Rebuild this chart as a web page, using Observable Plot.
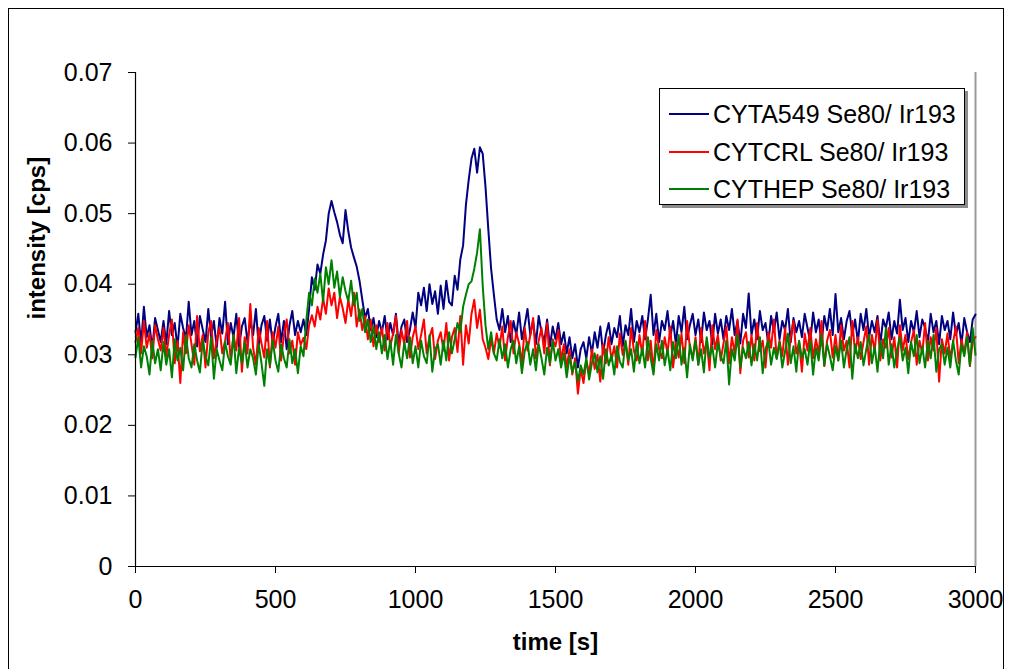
<!DOCTYPE html>
<html><head><meta charset="utf-8">
<script src="https://cdn.jsdelivr.net/npm/d3@7"></script>
<script src="https://cdn.jsdelivr.net/npm/@observablehq/plot@0.6"></script>
<style>
body{margin:0;background:#fff;font-family:"Liberation Sans",Arial,sans-serif;}
#wrap{position:relative;width:1010px;height:669px;overflow:hidden;background:#fff;}
#frame{position:absolute;left:8px;top:8px;width:996px;height:720px;border:1px solid #000;box-sizing:border-box;pointer-events:none;}
#chart{position:absolute;left:0;top:0;}
#legend{position:absolute;left:659px;top:88px;width:306px;height:117px;border:1px solid #000;box-shadow:3px 3px 0 #8c8c8c;background:#fff;box-sizing:border-box;}
.row{position:absolute;left:0;height:30px;width:300px;}
.sw{position:absolute;left:9px;top:14px;width:40px;height:2px;}
.lt{position:absolute;left:53px;top:0;font-size:25px;line-height:30px;color:#000;white-space:nowrap;}
</style>
</head><body>
<div id="wrap"><div id="chart"></div><div id="frame"></div><div id="legend"></div></div>
<script>
const seriesNames = ["CYTA549 Se80/ Ir193", "CYTCRL Se80/ Ir193", "CYTHEP Se80/ Ir193"];
const seriesColors = ["#000080", "#ff0000", "#008000"];
const xTicks = [0, 500, 1000, 1500, 2000, 2500, 3000];
const yTicks = [0, 0.01, 0.02, 0.03, 0.04, 0.05, 0.06, 0.07];
const time = d3.range(0, 3001, 10);

const a549 = [
.0332,.0358,.0315,.0368,.0325,.0342,.0308,.0352,.0335,.0318,
.0348,.0315,.0362,.0328,.0345,.0310,.0358,.0338,.0322,.0375,
.0328,.0348,.0312,.0355,.0336,.0318,.0365,.0325,.0348,.0310,
.0352,.0330,.0375,.0315,.0345,.0325,.0358,.0312,.0340,.0352,
.0318,.0348,.0328,.0365,.0312,.0342,.0355,.0320,.0350,.0315,
.0340,.0358,.0318,.0348,.0308,.0342,.0362,.0328,.0348,.0332,
.0350,.0328,.0365,.0410,.0392,.0428,.0415,.0442,.0462,.0500,
.0518,.0502,.0488,.0470,.0458,.0505,.0475,.0452,.0438,.0425,
.0405,.0378,.0352,.0365,.0335,.0352,.0325,.0348,.0332,.0355,
.0322,.0345,.0328,.0358,.0315,.0340,.0350,.0318,.0335,.0360,
.0338,.0388,.0370,.0395,.0362,.0400,.0372,.0390,.0358,.0398,
.0365,.0405,.0375,.0370,.0412,.0392,.0435,.0455,.0512,.0548,
.0578,.0592,.0558,.0594,.0585,.0538,.0478,.0422,.0385,.0350,
.0335,.0365,.0332,.0355,.0318,.0348,.0328,.0360,.0322,.0342,
.0365,.0328,.0348,.0315,.0355,.0332,.0318,.0350,.0312,.0340,
.0322,.0345,.0315,.0332,.0302,.0325,.0295,.0315,.0282,.0308,
.0318,.0295,.0325,.0302,.0332,.0310,.0340,.0302,.0328,.0345,
.0315,.0338,.0325,.0355,.0312,.0342,.0328,.0365,.0318,.0348,
.0332,.0355,.0322,.0350,.0385,.0328,.0358,.0318,.0348,.0335,
.0362,.0325,.0348,.0315,.0355,.0332,.0368,.0322,.0342,.0358,
.0328,.0350,.0318,.0360,.0335,.0348,.0315,.0358,.0330,.0350,
.0322,.0355,.0335,.0365,.0328,.0348,.0316,.0358,.0338,.0387,
.0328,.0350,.0322,.0362,.0335,.0345,.0315,.0355,.0332,.0360,
.0322,.0348,.0335,.0365,.0318,.0352,.0332,.0348,.0325,.0358,
.0338,.0318,.0360,.0332,.0350,.0315,.0355,.0335,.0365,.0328,
.0386,.0332,.0352,.0322,.0348,.0362,.0328,.0350,.0318,.0358,
.0335,.0365,.0325,.0348,.0332,.0355,.0315,.0350,.0338,.0360,
.0322,.0348,.0330,.0378,.0335,.0352,.0318,.0348,.0332,.0362,
.0325,.0350,.0338,.0318,.0358,.0332,.0348,.0315,.0355,.0335,
.0348,.0322,.0360,.0328,.0345,.0315,.0352,.0332,.0318,.0350,
.0357];

const crl = [
.0318,.0338,.0302,.0348,.0310,.0330,.0295,.0342,.0322,.0306,
.0338,.0298,.0328,.0350,.0288,.0320,.0260,.0332,.0302,.0342,
.0315,.0286,.0355,.0305,.0328,.0282,.0332,.0348,.0295,.0322,
.0338,.0302,.0320,.0345,.0292,.0328,.0306,.0352,.0276,.0325,
.0302,.0372,.0310,.0286,.0338,.0316,.0296,.0348,.0282,.0332,
.0310,.0340,.0292,.0328,.0350,.0302,.0320,.0286,.0332,.0314,
.0324,.0308,.0342,.0356,.0340,.0368,.0350,.0380,.0358,.0394,
.0370,.0388,.0352,.0382,.0366,.0345,.0378,.0355,.0388,.0340,
.0364,.0335,.0355,.0322,.0350,.0312,.0342,.0318,.0338,.0306,
.0345,.0312,.0330,.0355,.0302,.0335,.0315,.0348,.0296,.0325,
.0340,.0308,.0328,.0350,.0302,.0325,.0338,.0294,.0320,.0332,
.0306,.0345,.0292,.0325,.0338,.0304,.0355,.0286,.0342,.0316,
.0358,.0378,.0338,.0364,.0322,.0310,.0294,.0322,.0302,.0330,
.0310,.0340,.0292,.0325,.0348,.0302,.0332,.0316,.0288,.0338,
.0306,.0328,.0352,.0295,.0320,.0338,.0302,.0345,.0285,.0322,
.0312,.0335,.0292,.0315,.0282,.0308,.0272,.0295,.0245,.0280,
.0260,.0292,.0272,.0308,.0280,.0300,.0262,.0315,.0288,.0325,
.0292,.0312,.0282,.0330,.0300,.0318,.0286,.0338,.0306,.0292,
.0328,.0300,.0348,.0292,.0320,.0276,.0335,.0308,.0295,.0325,
.0302,.0340,.0282,.0318,.0296,.0330,.0288,.0348,.0310,.0295,
.0325,.0286,.0338,.0302,.0320,.0278,.0342,.0308,.0328,.0292,
.0316,.0340,.0288,.0325,.0302,.0350,.0274,.0320,.0332,.0296,
.0328,.0292,.0345,.0305,.0320,.0282,.0332,.0310,.0350,.0295,
.0320,.0298,.0338,.0286,.0325,.0348,.0302,.0318,.0276,.0330,
.0306,.0338,.0295,.0322,.0302,.0348,.0284,.0320,.0335,.0296,
.0328,.0292,.0342,.0306,.0320,.0282,.0348,.0302,.0325,.0294,
.0318,.0340,.0286,.0328,.0305,.0350,.0292,.0322,.0310,.0338,
.0296,.0325,.0282,.0342,.0306,.0328,.0294,.0318,.0335,.0286,
.0320,.0302,.0345,.0292,.0325,.0306,.0338,.0262,.0322,.0302,
.0330,.0294,.0318,.0340,.0288,.0322,.0302,.0332,.0284,.0320,
.0325];

const hep = [
.0296,.0325,.0282,.0312,.0298,.0272,.0320,.0288,.0308,.0278,
.0318,.0286,.0308,.0268,.0322,.0292,.0310,.0278,.0328,.0295,
.0282,.0315,.0292,.0275,.0320,.0298,.0285,.0325,.0266,.0308,
.0292,.0278,.0318,.0298,.0286,.0328,.0274,.0310,.0288,.0318,
.0282,.0308,.0295,.0272,.0315,.0288,.0256,.0308,.0285,.0320,
.0292,.0276,.0315,.0295,.0282,.0322,.0288,.0308,.0274,.0312,
.0298,.0348,.0388,.0370,.0408,.0388,.0415,.0375,.0424,.0400,
.0434,.0395,.0418,.0382,.0410,.0390,.0376,.0405,.0370,.0388,
.0348,.0365,.0332,.0350,.0318,.0340,.0308,.0332,.0302,.0328,
.0294,.0320,.0286,.0328,.0302,.0282,.0318,.0295,.0325,.0288,
.0312,.0282,.0320,.0298,.0288,.0328,.0276,.0308,.0315,.0286,
.0320,.0292,.0332,.0302,.0322,.0345,.0332,.0368,.0385,.0400,
.0404,.0422,.0445,.0478,.0398,.0342,.0308,.0332,.0302,.0292,
.0322,.0295,.0315,.0282,.0308,.0320,.0288,.0312,.0274,.0305,
.0318,.0286,.0308,.0278,.0315,.0295,.0272,.0310,.0288,.0320,
.0292,.0308,.0282,.0302,.0268,.0298,.0275,.0290,.0262,.0285,
.0272,.0295,.0265,.0288,.0302,.0275,.0298,.0266,.0308,.0285,
.0300,.0272,.0312,.0290,.0282,.0320,.0292,.0308,.0276,.0318,
.0288,.0310,.0282,.0325,.0295,.0272,.0315,.0292,.0320,.0285,
.0308,.0278,.0318,.0295,.0328,.0286,.0310,.0268,.0315,.0292,
.0320,.0286,.0308,.0275,.0325,.0295,.0312,.0282,.0318,.0298,
.0288,.0320,.0258,.0308,.0292,.0328,.0282,.0310,.0295,.0318,
.0285,.0315,.0292,.0325,.0274,.0308,.0320,.0286,.0310,.0294,
.0318,.0282,.0305,.0330,.0288,.0312,.0276,.0320,.0295,.0308,
.0286,.0320,.0272,.0310,.0292,.0328,.0285,.0315,.0298,.0278,
.0312,.0292,.0320,.0282,.0308,.0325,.0266,.0315,.0295,.0318,
.0285,.0308,.0328,.0288,.0312,.0276,.0320,.0295,.0338,.0286,
.0315,.0282,.0308,.0325,.0292,.0310,.0274,.0318,.0298,.0328,
.0288,.0312,.0282,.0320,.0295,.0328,.0276,.0308,.0315,.0286,
.0310,.0282,.0320,.0292,.0272,.0315,.0298,.0325,.0285,.0338,
.0300];

const seriesValues = [a549, crl, hep];
const rows = [];
seriesValues.forEach((vals, i) => {
  vals.forEach((v, j) => rows.push({series: seriesNames[i], t: time[j], v}));
});

const font = '"Liberation Sans", Arial, sans-serif';
const chart = Plot.plot({
  width: 1010,
  height: 669,
  marginLeft: 135,
  marginRight: 35,
  marginTop: 72,
  marginBottom: 103,
  style: {fontFamily: font, background: "transparent", color: "#000"},
  x: {domain: [0, 3000]},
  y: {domain: [0, 0.07]},
  color: {domain: seriesNames, range: seriesColors},
  marks: [
    Plot.ruleX([3000], {stroke: "#999", strokeWidth: 2}),
    Plot.line(rows, {x: "t", y: "v", stroke: "series", z: "series", strokeWidth: 2, strokeLinejoin: "round"}),
    Plot.ruleX([0], {stroke: "#000", strokeWidth: 1.2}),
    Plot.ruleY([0], {stroke: "#000", strokeWidth: 1.2}),
    Plot.axisX({ticks: xTicks, tickSize: 7, tickPadding: 17, fontSize: 25, label: null, tickFormat: d => String(d)}),
    Plot.axisY({ticks: yTicks, tickSize: 7, tickPadding: 16, fontSize: 25, label: null, tickFormat: d => d === 0 ? "0" : d.toFixed(2)}),
    Plot.text(["time [s]"], {frameAnchor: "bottom", dy: 83, fontSize: 24, fontWeight: "bold", fill: "#000"}),
    Plot.text(["intensity [cps]"], {frameAnchor: "left", dx: -98, rotate: -90, fontSize: 24, fontWeight: "bold", fill: "#000"})
  ]
});
document.getElementById("chart").appendChild(chart);

const legend = document.getElementById("legend");
seriesNames.forEach((name, i) => {
  const r = document.createElement("div");
  r.className = "row";
  r.style.top = (10 + i * 37.5) + "px";
  const sw = document.createElement("div");
  sw.className = "sw";
  sw.style.background = seriesColors[i];
  const lt = document.createElement("div");
  lt.className = "lt";
  lt.textContent = name;
  r.appendChild(sw); r.appendChild(lt);
  legend.appendChild(r);
});
</script>
</body></html>
